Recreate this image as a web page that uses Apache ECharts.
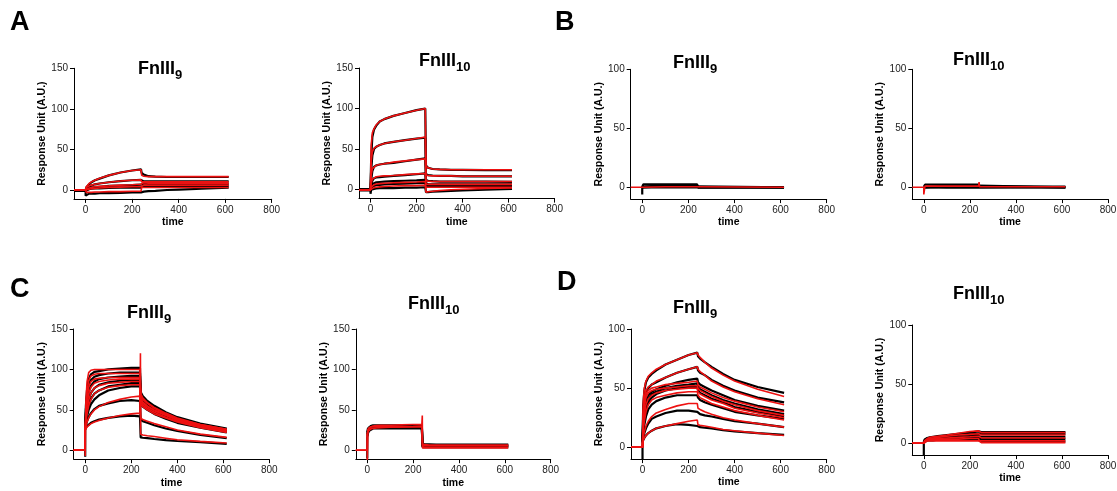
<!DOCTYPE html>
<html><head><meta charset="utf-8">
<script src="https://cdn.jsdelivr.net/npm/echarts@6/dist/echarts.min.js"></script>
<style>html,body{margin:0;padding:0;background:#fff}#c{width:1117px;height:491px}</style>
</head><body><div id="c"></div>
<script>
// ---- tick labels ----
const xTicks = [0, 200, 400, 600, 800];
const yTicks150 = [0, 50, 100, 150];
const yTicks100 = [0, 50, 100];

// ---- time points (s) ----
const T  = [-50, 0, 0, 3, 8, 15, 25, 40, 60, 100, 150, 200, 238, 240, 241, 250, 270, 300, 350, 400, 500, 615];
const TB = [-50, 0, 0, 5, 100, 238, 240, 242, 615];

// ---- Panel A, FnIII9 ----
const a9Data1 = [0, 0, 1, 3, 5, 7, 9.5, 12, 14, 18, 21.5, 24, 25.5, 25.5, 21, 19, 17, 16.5, 16, 16, 16, 16];
const a9Data2 = [0, 0, 0.5, 2, 3, 4, 5.5, 7, 8, 9.5, 11, 12, 12.5, 12.5, 11, 10.5, 10.5, 10.5, 10.5, 10.5, 10.5, 10.5];
const a9Data3 = [-0.5, -0.5, 0, 1, 1.5, 2, 3, 3.5, 4, 5, 5.5, 6, 6.5, 6.5, 8, 8, 7.5, 7.5, 7.5, 7.5, 7.5, 7.5];
const a9Data4 = [-1, -1, -1, 0, 0.5, 1, 1.5, 2, 2, 2.5, 3, 3, 3, 3, 5, 5, 5, 5, 5, 5, 5, 5];
const a9Data5 = [-1, -1, -7, -5, -5, -4.5, -4.5, -4.5, -4, -4, -3.5, -3, -3, -3, -2, -2, -1.5, -1, 0, 0.5, 1.5, 3];
const a9Fit1 = [0, 0, 0, 4, 6, 8, 10, 12, 14.5, 18, 21.5, 24, 25, 25, 18, 17, 16.5, 16.5, 16.5, 16.5, 16.5, 16.5];
const a9Fit2 = [0, 0, 0, 3, 4, 5, 6, 7, 8, 9.5, 11, 12, 12.5, 12.5, 10, 10, 10, 10, 10, 10, 10, 10];
const a9Fit3 = [0, 0, 0, 1, 2, 2.5, 3, 4, 4.5, 5, 6, 6.5, 7, 7, 9, 9, 8.5, 8.5, 8.5, 8.5, 8.5, 8.5];
const a9Fit4 = [0, 0, 0, 0, 0.5, 1, 1.5, 2, 2.5, 3, 3.5, 4, 4, 4, 6, 6, 6, 6, 6, 6, 6, 6];
const a9Fit5 = [0, 0, 0, -3, -3, -3, -3, -2.5, -2.5, -2, -2, -1.5, -1.5, -1.5, 3, 3, 3, 3, 3, 3, 3, 3];

// ---- Panel A, FnIII10 ----
const a10Data1 = [0, 0, 0, 40, 65, 74, 79, 84, 87, 91, 94.5, 98, 100, 100, 30, 27, 25.5, 25, 24.5, 24.5, 24, 24];
const a10Data2 = [0, 0, 0, 25, 42, 50, 53, 55, 57, 59, 61, 63, 64, 64, 19, 18, 17.5, 17, 17, 16.5, 16.5, 16.5];
const a10Data3 = [0, 0, 0, 12, 23, 28, 30, 31, 32, 33, 35, 37, 38.5, 38.5, 12, 11, 10.5, 10, 10, 10, 10, 9.5];
const a10Data4 = [0, 0, 0, 6, 11, 14, 15, 15.5, 16, 17, 18, 19, 20, 20, 8, 7, 6.5, 6.5, 6.5, 6.5, 6.5, 6.5];
const a10Data5 = [0, 0, 0, 4, 7, 8, 9, 9.5, 10, 10.5, 11, 11.5, 12, 12, 6, 5, 5, 5, 5, 5, 5, 5];
const a10Data6 = [0, 0, 0, 2, 4, 5, 5.5, 6, 6.5, 7, 7.5, 8, 8.5, 8.5, 4, 3.5, 3.5, 3.5, 3.5, 3.5, 3.5, 3.5];
const a10Data7 = [-1, -1, -5, 0, 0.5, 1, 1.5, 2, 2, 2, 2.5, 2.5, 3, 3, -3, -3, -2.5, -2, -1.5, -1, 0, 1];
const a10Fit1 = [0, 0, 0, 55, 70, 75, 80, 84, 87, 91, 94.5, 98, 100, 100, 29, 27, 25.5, 25, 24.5, 24.5, 24.5, 24.5];
const a10Fit2 = [0, 0, 0, 35, 47, 51, 53, 55, 57, 59, 61, 63, 65, 65, 18, 17.5, 17, 17, 17, 16.5, 16.5, 16.5];
const a10Fit3 = [0, 0, 0, 18, 26, 28, 30, 31, 32, 34, 35.5, 37, 38, 38, 11, 10.5, 10, 10, 10, 10, 10, 10];
const a10Fit4 = [0, 0, 0, 8, 13, 15, 16, 16.5, 17, 17.5, 18.5, 19.5, 20, 20, 7, 6.5, 6.5, 6.5, 6.5, 6.5, 6.5, 6.5];
const a10Fit5 = [0, 0, 0, 3, 5, 6, 7, 7.5, 8, 8.5, 9, 9.5, 10, 10, 3, 3, 3, 3, 3, 3, 3, 3];
const a10Fit6 = [0, 0, 0, 1, 2, 2.5, 3, 3.5, 4, 4.5, 5, 5, 5.5, 5.5, -3, -2.5, -2, -1, 0, 0.5, 1.5, 2];

// ---- Panel B (time points TB) ----
const b9Data1 = [null, -6, 0.5, 2.5, 2.5, 2.5, 2.5, 0, 0];
const b9Data2 = [null, null, 0.5, 1.7, 1.7, 1.7, 1.7, 0, 0];
const b9Data3 = [null, null, 0, 0.9, 0.9, 0.9, 0.9, 0, 0];
const b9Data4 = [null, null, 0, 0, 0, 0, 0, 0, 0];
const b9Fit1  = [0, 0, 0, 0.5, 0.5, 0.5, 0.5, 0, 0];
const b10Data1 = [null, null, 0.5, 2.2, 2.2, 2.2, 2.2, 0.5, 0.5];
const b10Data2 = [null, null, 0, 1.4, 1.4, 1.4, 1.4, 0, 0];
const b10Data3 = [null, null, 0, 0.6, 0.6, 0.6, 0.6, 0, 0];
const b10Data4 = [null, null, 0, -0.3, -0.3, -0.3, -0.3, 0, 0];
const b10Fit1  = [0, 0, -6, 1, 1, 1, 4.5, 0.5, 0.5];

// ---- Panel C, FnIII9 ----
const c9Data1 = [null, null, 30, 55, 75, 88, 94, 97, 98, 100, 101, 102, 102, 102, 72, 67, 61, 55, 47, 41, 33, 27];
const c9Data2 = [null, null, 30, 50, 68, 80, 87, 91, 93, 95, 96, 96, 96, 96, 68, 63, 58, 52, 45, 39, 32, 26];
const c9Data3 = [null, null, 29, 45, 60, 72, 80, 85, 88, 90, 91, 92, 92, 92, 65, 61, 56, 50, 44, 38, 31, 25];
const c9Data4 = [null, null, 28, 40, 52, 63, 71, 77, 81, 84, 86, 87, 87, 87, 62, 58, 54, 48, 42, 37, 30, 24];
const c9Data5 = [null, null, 28, 37, 47, 56, 64, 70, 74, 79, 81, 83, 83, 83, 60, 56, 52, 47, 41, 36, 29, 23];
const c9Data6 = [null, null, 27, 34, 42, 50, 57, 63, 68, 74, 77, 79, 79, 79, 57, 54, 50, 45, 39, 34, 28, 22];
const c9Data7 = [null, null, 27, 31, 36, 41, 46, 51, 55, 58, 61, 62, 61, 61, 38, 36, 34, 31, 27, 24, 19, 15];
const c9Data8 = [null, -8, 26, 28, 30, 32, 34, 36, 38, 40, 42, 43, 42, 42, 16, 15.5, 15, 14, 12.5, 11.5, 10, 8];
const c9Fit1 = [0, 0, -7, 60, 85, 96, 99, 100, 100, 100, 100, 100, 100, 100, 70, 65, 59, 53, 46, 40, 32, 26];
const c9Fit2 = [0, 0, 25, 50, 72, 86, 92, 94, 95, 95, 95, 95, 95, 95, 67, 63, 58, 52, 45, 39, 32, 26];
const c9Fit3 = [0, 0, 25, 45, 63, 78, 85, 88, 89, 90, 90, 90, 90, 90, 64, 60, 55, 50, 44, 38, 31, 25];
const c9Fit4 = [0, 0, 25, 40, 56, 70, 78, 83, 85, 87, 88, 88, 88, 88, 62, 58, 54, 49, 43, 37, 30, 24];
const c9Fit5 = [0, 0, 25, 38, 50, 62, 71, 77, 80, 83, 84, 85, 85, 85, 59, 56, 52, 47, 41, 36, 29, 23];
const c9Fit6 = [0, 0, 25, 35, 45, 55, 63, 70, 74, 78, 80, 81, 81, 81, 57, 54, 50, 45, 40, 35, 28, 22];
const c9Fit7 = [0, 0, 25, 30, 35, 40, 45, 50, 54, 59, 63, 66, 67, 67, 40, 38, 36, 33, 29, 25, 20, 16];
const c9Fit8 = [0, 0, 25, 27, 29, 31, 33, 35, 37, 40, 43, 45, 46, 120, 20, 19, 18, 17, 15, 13, 11, 9];

// ---- Panel C, FnIII10 ----
const c10Data1 = [null, null, 22, 27, 29, 30, 31, 31, 31, 31, 31, 31, 31, 31, 8, 7.5, 7.5, 7, 7, 7, 7, 7];
const c10Data2 = [null, null, 20, 25, 28, 29, 29.5, 30, 30, 30, 30, 30, 30, 30, 6, 6, 6, 6, 6, 6, 6, 6];
const c10Data3 = [null, null, 18, 23, 26, 27.5, 28, 28.5, 28.5, 28.5, 28.5, 28, 28, 28, 5, 5, 5, 5, 5, 5, 5, 5];
const c10Data4 = [null, -10, 16, 21, 24, 26, 27, 27, 27, 27, 27, 27, 27, 27, 4, 4, 4, 4, 4, 4, 4, 4];
const c10Fit1 = [0, 0, -12, 25, 28, 29.5, 30, 30.5, 31, 31, 31.5, 32, 32, 43, 3, 3, 3, 3, 3, 3, 3, 3];
const c10Fit2 = [0, 0, 20, 23, 25, 26.5, 27, 27.5, 28, 28.5, 29, 29.5, 30, 30, 5, 5.5, 5.5, 5.5, 5.5, 5.5, 5.5, 5.5];
const c10Fit3 = [0, 0, 20, 26, 28, 29, 29, 29, 29, 29, 29, 29, 29, 29, 7, 7, 6.5, 6.5, 6.5, 6.5, 6.5, 6.5];

// ---- Panel D, FnIII9 ----
const d9Data1 = [null, -10, 5, 35, 48, 55, 59, 62, 65, 70, 74, 78, 80, 80, 77, 75, 72, 68, 62, 57, 51, 46];
const d9Data2 = [null, null, 5, 28, 40, 46, 50, 53, 55, 59, 63, 66, 68, 68, 65, 63, 61, 57, 52, 48, 42, 38];
const d9Data3 = [null, null, 5, 22, 33, 40, 44, 47, 49, 52, 55, 57, 58, 58, 55, 53, 51, 48, 44, 40, 35, 31];
const d9Data4 = [null, null, 5, 18, 28, 36, 41, 45, 47, 50, 52, 53, 54, 54, 51, 49, 47, 44, 40, 37, 32, 28];
const d9Data5 = [null, null, 5, 15, 24, 32, 38, 42, 45, 48, 50, 51, 51, 51, 48, 46, 44, 41, 38, 34, 30, 26];
const d9Data6 = [null, null, 5, 12, 19, 26, 32, 36, 39, 42, 44, 44, 44, 44, 42, 40, 38, 36, 33, 30, 27, 24];
const d9Data7 = [null, null, 4, 8, 12, 16, 20, 24, 26, 29, 31, 31, 30, 30, 29, 28, 27, 26, 24, 22, 20, 17];
const d9Data8 = [null, null, 4, 6, 8, 10, 12, 14, 16, 18, 19.5, 19, 18, 18, 17.5, 17, 16.5, 16, 14.5, 13.5, 12, 10.5];
const d9Fit1 = [0, 0, 0, 38, 50, 56, 60, 63, 66, 70, 74, 78, 80, 80, 78, 76, 72, 67, 61, 56, 49, 43];
const d9Fit2 = [0, 0, 0, 30, 42, 48, 51, 53, 56, 59, 63, 66, 68, 68, 66, 64, 61, 56, 51, 47, 41, 36];
const d9Fit3 = [0, 0, 0, 26, 38, 45, 48, 50, 51, 53, 54, 55, 56, 56, 53, 51, 49, 46, 42, 39, 34, 30];
const d9Fit4 = [0, 0, 0, 22, 34, 42, 46, 48, 49, 50, 51, 52, 52, 52, 50, 48, 46, 43, 39, 36, 31, 27];
const d9Fit5 = [0, 0, 0, 18, 28, 36, 41, 44, 46, 48, 49, 50, 50, 50, 47, 45, 43, 40, 37, 33, 29, 25];
const d9Fit6 = [0, 0, 0, 14, 22, 30, 36, 40, 42, 44, 46, 47, 47, 47, 44, 42, 40, 37, 34, 31, 27, 23];
const d9Fit7 = [0, 0, 0, 8, 13, 18, 22, 26, 29, 32, 35, 37, 37, 37, 33, 32, 30, 28, 25, 23, 20, 17];
const d9Fit8 = [0, 0, 0, 6, 8, 10, 12, 14, 16, 18, 20, 22, 23, 23, 19, 18.5, 18, 17, 15, 14, 12, 10];

// ---- Panel D, FnIII10 ----
const d10Data1 = [null, -10, 1, 3, 4, 4.5, 5, 5.5, 6, 7, 8, 9, 10, 10, 9.5, 9.5, 9.5, 9.5, 9.5, 9.5, 9.5, 9.5];
const d10Data2 = [null, null, 1, 2.5, 3.5, 4, 4.5, 5, 5.5, 6, 7, 7.5, 8, 8, 8, 8, 8, 8, 8, 8, 8, 8];
const d10Data3 = [null, null, 1, 2, 3, 3.5, 4, 4, 4.5, 5, 5.5, 6, 6, 6, 5.5, 5.5, 5.5, 5.5, 5.5, 5.5, 5.5, 5.5];
const d10Data4 = [null, null, 0.5, 1.5, 2.5, 3, 3, 3.5, 3.5, 4, 4, 4.5, 4.5, 4.5, 3.5, 3.5, 3.5, 3.5, 3.5, 3.5, 3.5, 3.5];
const d10Data5 = [null, null, 0.5, 1, 2, 2.5, 2.5, 2.5, 3, 3, 3, 3, 3, 3, 1.5, 1.5, 1.5, 1.5, 1.5, 1.5, 1.5, 1.5];
const d10Fit1 = [0, 0, 0, 2, 3, 4, 5, 5.5, 6, 7, 8.5, 10, 10.5, 10.5, 9, 9, 9, 9, 9, 9, 9, 9];
const d10Fit2 = [0, 0, 0, 2, 3, 3.5, 4, 4.5, 5, 6, 7, 7.5, 8, 8, 7, 7, 7, 7, 7, 7, 7, 7];
const d10Fit3 = [0, 0, 0, 1.5, 2.5, 3, 3.5, 4, 4, 4.5, 5, 5.5, 6, 6, 4.5, 4.5, 4.5, 4.5, 4.5, 4.5, 4.5, 4.5];
const d10Fit4 = [0, 0, 0, 1, 2, 2.5, 3, 3, 3, 3.5, 3.5, 4, 4, 4, 2, 2, 2, 2, 2, 2, 2, 2];
const d10Fit5 = [0, 0, 0, 1, 1.5, 2, 2, 2, 2, 2, 2, 2, 2, 2, 0.5, 0.5, 0.5, 0.5, 0.5, 0.5, 0.5, 0.5];

// ---- labels ----
const panelLetters = ['A', 'B', 'C', 'D'];
const subA = '9', subB = '10';

const FONT = 'Liberation Sans, Arial, sans-serif';

const panels = [
  {grid:{left:74, top:68.3, width:197.7, height:130.6}, ymin:-11, ymax:150, yt:yTicks150, t:T,
   black:[a9Data1,a9Data2,a9Data3,a9Data4,a9Data5], red:[a9Fit1,a9Fit2,a9Fit3,a9Fit4,a9Fit5], sub:subA, tl:138, tt:60},
  {grid:{left:359, top:68, width:195.6, height:130.6}, ymin:-11, ymax:150, yt:yTicks150, t:T,
   black:[a10Data1,a10Data2,a10Data3,a10Data4,a10Data5,a10Data6,a10Data7], red:[a10Fit1,a10Fit2,a10Fit3,a10Fit4,a10Fit5,a10Fit6], sub:subB, tl:419, tt:52},
  {grid:{left:630.7, top:69.3, width:196, height:129.8}, ymin:-10, ymax:100, yt:yTicks100, t:TB,
   black:[b9Data1,b9Data2,b9Data3,b9Data4], red:[b9Fit1], sub:subA, tl:673, tt:54},
  {grid:{left:912.3, top:69.3, width:195.7, height:129.8}, ymin:-10, ymax:100, yt:yTicks100, t:TB,
   black:[b10Data1,b10Data2,b10Data3,b10Data4], red:[b10Fit1], sub:subB, tl:953, tt:51},
  {grid:{left:73.7, top:329, width:195.6, height:130.2}, ymin:-11, ymax:150, yt:yTicks150, t:T,
   black:[c9Data1,c9Data2,c9Data3,c9Data4,c9Data5,c9Data6,c9Data7,c9Data8], red:[c9Fit1,c9Fit2,c9Fit3,c9Fit4,c9Fit5,c9Fit6,c9Fit7,c9Fit8], sub:subA, tl:127, tt:304},
  {grid:{left:355.8, top:329, width:194.9, height:130.2}, ymin:-11, ymax:150, yt:yTicks150, t:T,
   black:[c10Data1,c10Data2,c10Data3,c10Data4], red:[c10Fit1,c10Fit2,c10Fit3], sub:subB, tl:408, tt:295},
  {grid:{left:631, top:329, width:195.7, height:130.1}, ymin:-10, ymax:100, yt:yTicks100, t:T,
   black:[d9Data1,d9Data2,d9Data3,d9Data4,d9Data5,d9Data6,d9Data7,d9Data8], red:[d9Fit1,d9Fit2,d9Fit3,d9Fit4,d9Fit5,d9Fit6,d9Fit7,d9Fit8], sub:subA, tl:673, tt:299},
  {grid:{left:912.3, top:325, width:195.7, height:130.1}, ymin:-10, ymax:100, yt:yTicks100, t:T,
   black:[d10Data1,d10Data2,d10Data3,d10Data4,d10Data5], red:[d10Fit1,d10Fit2,d10Fit3,d10Fit4,d10Fit5], sub:subB, tl:953, tt:285}
];

const letterPos = [[10, 8], [555, 8], [10, 275], [557, 268]];

const grids = [], xAxes = [], yAxes = [], series = [], titles = [];
panels.forEach((p, i) => {
  grids.push(Object.assign({containLabel:false, outerBoundsMode:'none'}, p.grid));
  xAxes.push({
    type:'value', gridIndex:i, min:-50, max:800,
    axisLine:{show:true, onZero:false, lineStyle:{color:'#000', width:1}},
    axisTick:{show:true, customValues:xTicks, length:4, lineStyle:{color:'#000', width:1}},
    axisLabel:{customValues:xTicks, margin:6, fontSize:10, color:'#222', fontFamily:FONT},
    splitLine:{show:false},
    name:'time', nameLocation:'middle', nameGap:18,
    nameTextStyle:{fontWeight:'bold', fontSize:10.5, color:'#000', fontFamily:FONT}
  });
  yAxes.push({
    type:'value', gridIndex:i, min:p.ymin, max:p.ymax,
    axisLine:{show:true, onZero:false, lineStyle:{color:'#000', width:1}},
    axisTick:{show:true, customValues:p.yt, length:4, lineStyle:{color:'#000', width:1}},
    axisLabel:{customValues:p.yt, margin:6, fontSize:10, color:'#222', fontFamily:FONT},
    splitLine:{show:false},
    name:'Response Unit (A.U.)', nameLocation:'middle', nameGap:26,
    nameTextStyle:{fontWeight:'bold', fontSize:10.5, color:'#000', fontFamily:FONT}
  });
  p.black.forEach(arr => series.push({
    type:'line', xAxisIndex:i, yAxisIndex:i, symbol:'none', silent:true, z:2,
    lineStyle:{color:'#000', width:2.2}, data:p.t.map((tt, k) => [tt, arr[k]])
  }));
  p.red.forEach(arr => series.push({
    type:'line', xAxisIndex:i, yAxisIndex:i, symbol:'none', silent:true, z:3,
    lineStyle:{color:'#ee1111', width:1.6}, data:p.t.map((tt, k) => [tt, arr[k]])
  }));
  titles.push({
    text:'{a|FnIII}{b|' + p.sub + '}', left:p.tl, top:p.tt, padding:0,
    textStyle:{rich:{
      a:{fontSize:18, fontWeight:'bold', color:'#000', fontFamily:FONT, lineHeight:22, verticalAlign:'top'},
      b:{fontSize:13, fontWeight:'bold', color:'#000', fontFamily:FONT, lineHeight:13, verticalAlign:'bottom'}
    }}
  });
});
panelLetters.forEach((L, i) => titles.push({
  text:L, left:letterPos[i][0], top:letterPos[i][1], padding:0,
  textStyle:{fontSize:27, fontWeight:'bold', color:'#000', fontFamily:FONT, lineHeight:30}
}));

const chart = echarts.init(document.getElementById('c'), null, {renderer:'canvas'});
chart.setOption({
  animation:false, backgroundColor:'#fff',
  title:titles, grid:grids, xAxis:xAxes, yAxis:yAxes, series:series
});
</script></body></html>
